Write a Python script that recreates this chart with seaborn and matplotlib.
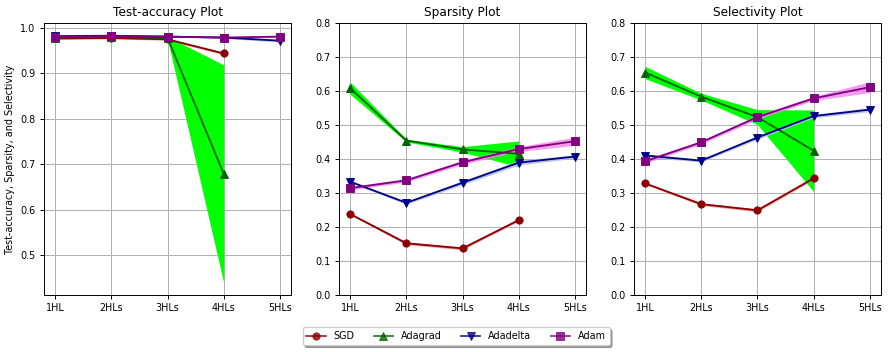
import numpy as np
import matplotlib
matplotlib.use("Agg")
import matplotlib.pyplot as plt
import seaborn as sns

layers = ["1HL", "2HLs", "3HLs", "4HLs", "5HLs"]
optimizers = ["SGD", "Adagrad", "Adadelta", "Adam"]
nan = np.nan

# means per optimizer (NaN = not run)
acc_mean = {
    "SGD":      [0.976, 0.977, 0.974, 0.943, nan],
    "Adagrad":  [0.978, 0.980, 0.977, 0.679, nan],
    "Adadelta": [0.981, 0.982, 0.980, 0.978, 0.971],
    "Adam":     [0.980, 0.981, 0.980, 0.978, 0.980],
}
acc_std = {
    "SGD":      [0.002, 0.002, 0.002, 0.003, nan],
    "Adagrad":  [0.002, 0.002, 0.003, 0.239, nan],
    "Adadelta": [0.001, 0.001, 0.001, 0.002, 0.003],
    "Adam":     [0.001, 0.001, 0.001, 0.001, 0.002],
}
spa_mean = {
    "SGD":      [0.238, 0.152, 0.137, 0.220, nan],
    "Adagrad":  [0.608, 0.454, 0.428, 0.415, nan],
    "Adadelta": [0.333, 0.271, 0.330, 0.389, 0.407],
    "Adam":     [0.314, 0.337, 0.390, 0.429, 0.452],
}
spa_std = {
    "SGD":      [0.003, 0.004, 0.004, 0.003, nan],
    "Adagrad":  [0.018, 0.004, 0.008, 0.038, nan],
    "Adadelta": [0.003, 0.004, 0.006, 0.007, 0.005],
    "Adam":     [0.005, 0.005, 0.006, 0.007, 0.012],
}
sel_mean = {
    "SGD":      [0.328, 0.267, 0.249, 0.343, nan],
    "Adagrad":  [0.654, 0.583, 0.523, 0.424, nan],
    "Adadelta": [0.410, 0.395, 0.463, 0.526, 0.545],
    "Adam":     [0.393, 0.449, 0.523, 0.578, 0.611],
}
sel_std = {
    "SGD":      [0.003, 0.004, 0.004, 0.004, nan],
    "Adagrad":  [0.018, 0.010, 0.022, 0.120, nan],
    "Adadelta": [0.005, 0.004, 0.005, 0.005, 0.006],
    "Adam":     [0.006, 0.005, 0.006, 0.006, 0.016],
}

line_colors = {"SGD": "darkred", "Adagrad": "darkgreen", "Adadelta": "darkblue", "Adam": "purple"}
fill_colors = {"SGD": "lightcoral", "Adagrad": "lime", "Adadelta": "lightsteelblue", "Adam": "violet"}
fill_alpha = {"SGD": 0.8, "Adagrad": 1.0, "Adadelta": 0.9, "Adam": 0.8}
markers = {"SGD": "o", "Adagrad": "^", "Adadelta": "v", "Adam": "s"}

DPI = 87
fig, axes = plt.subplots(1, 3, figsize=(889 / DPI, 352 / DPI), dpi=DPI)
fig.subplots_adjust(left=0.0495, right=0.991, top=0.935, bottom=0.162, wspace=0.194)

panels = [
    ("Test-accuracy Plot", acc_mean, acc_std, None),
    ("Sparsity Plot", spa_mean, spa_std, (0, 0.8)),
    ("Selectivity Plot", sel_mean, sel_std, (0, 0.8)),
]

x = np.arange(len(layers))
for ax, (title, means, stds, ylim) in zip(axes, panels):
    for opt in optimizers:
        m = np.array(means[opt])
        s = np.array(stds[opt])
        ok = ~np.isnan(m)
        ax.fill_between(x[ok], (m - s)[ok], (m + s)[ok], color=fill_colors[opt],
                        alpha=fill_alpha[opt], linewidth=0)
        sns.lineplot(x=x[ok], y=m[ok], ax=ax, color=line_colors[opt], marker=markers[opt],
                     markersize=6, markeredgecolor=line_colors[opt], label=opt, legend=False)
    ax.set_title(title, fontsize=10)
    ax.set_xticks(x)
    ax.set_xticklabels(layers)
    ax.grid(True, color="#b0b0b0", linewidth=0.8)
    ax.set_axisbelow(True)
    if ylim is not None:
        ax.set_ylim(*ylim)
        ax.set_yticks(np.arange(0, 0.81, 0.1))
    ax.tick_params(labelsize=8)

axes[0].set_ylabel("Test-accuracy, Sparsity, and Selectivity", fontsize=8)

handles, labels = axes[0].get_legend_handles_labels()
leg = fig.legend(handles, labels, loc="center", bbox_to_anchor=(0.513, 0.045), ncol=4,
                 shadow=True, fancybox=True, fontsize=8, handlelength=2.0, columnspacing=2.0)
for h in leg.legend_handles:
    h.set_alpha(0.8)

plt.savefig("out.png", dpi=DPI)
